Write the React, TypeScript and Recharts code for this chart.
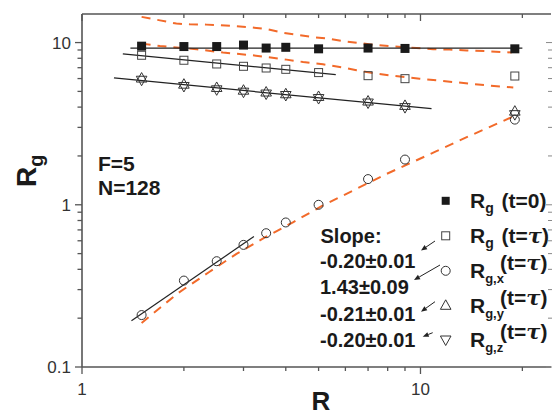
import React from 'react';
import { ScatterChart, Scatter, XAxis, YAxis } from 'recharts';

// measured radii (x) and radius of gyration values (y)
const R = [1.5, 2, 2.5, 3, 3.5, 4, 5, 7, 9, 19];
const rgT0 = [9.5, 9.45, 9.45, 9.65, 9.25, 9.35, 9.15, 9.25, 9.2, 9.15];
const rgTau = [8.35, 7.78, 7.38, 7.14, 6.97, 6.84, 6.53, 6.25, 5.99, 6.22];
const rgX = [0.209, 0.341, 0.449, 0.566, 0.668, 0.778, 1.0, 1.44, 1.9, 3.35];
const rgY = [6.0, 5.5, 5.25, 5.05, 4.92, 4.8, 4.62, 4.33, 4.07, 3.75];
const rgZ = [5.9, 5.4, 5.15, 4.98, 4.85, 4.75, 4.55, 4.27, 4.0, 3.62];

// power-law fits (end points)
const fitT0R = [1.39, 20];
const fitT0V = [9.25, 9.25];
const fitTauR = [1.32, 5.62];
const fitTauV = [8.51, 6.35];
const fitYZR = [1.243, 10.78];
const fitYZV = [6.05, 3.91];
const fitXR = [1.4, 3.22];
const fitXV = [0.193, 0.637];

// dashed (theory) curves
const curveTopR = [1.5, 1.7, 1.9, 2.08, 2.33, 2.55, 2.86, 3.17, 3.51, 3.93, 4.4, 4.82, 5.28, 5.91, 7.24, 8.11, 9.73, 10.9, 12.2, 13.7, 15.7, 18.6];
const curveTopV = [14.4, 13.7, 13.1, 12.95, 12.9, 12.8, 12.6, 12.4, 12.1, 11.5, 11.1, 10.8, 10.6, 10.2, 9.7, 9.5, 9.25, 9.1, 9.05, 8.95, 8.85, 8.68];
const curveMidR = [1.5, 1.7, 2.18, 2.61, 3.2, 4.02, 4.5, 5.15, 5.91, 6.47, 7.41, 8.11, 9.95, 12.5, 15.7, 18.8];
const curveMidV = [9.85, 9.53, 9.09, 8.68, 8.35, 7.85, 7.59, 7.35, 7.01, 6.75, 6.44, 6.28, 5.99, 5.71, 5.45, 5.28];
const curveXR = [1.5, 1.705, 1.92, 2.37, 2.86, 3.48, 4.2, 5.15, 7.94, 11.15, 13.7, 18.6];
const curveXV = [0.187, 0.233, 0.285, 0.384, 0.498, 0.631, 0.78, 0.99, 1.55, 2.14, 2.61, 3.47];

const xTicks = [1, 2, 3, 4, 5, 6, 7, 8, 9, 10, 20];
const yTicks = [0.1, 0.2, 0.3, 0.4, 0.5, 0.6, 0.7, 0.8, 0.9, 1, 2, 3, 4, 5, 6, 7, 8, 9, 10];
const xLabels = [1, 10];
const yLabels = [0.1, 1, 10];

const slopes = ['-0.20\u00b10.01', '1.43\u00b10.09', '-0.21\u00b10.01', '-0.20\u00b10.01'];

const W = 552;
const H = 415;
const PL = 82;
const PR = 551;
const PT = 14;
const PB = 367;
const ORANGE = '#f26a2a';
const AXIS = '#555';
const FONT = '"Liberation Sans", Arial, sans-serif';

const pts = (xs: number[], ys: number[]) => xs.map((x, i) => ({ x, y: ys[i] }));

const Empty = () => <g />;
const FilledSquare = (p: any) => <rect x={p.cx - 4.5} y={p.cy - 4.5} width={9} height={9} fill="#1a1a1a" />;
const OpenSquare = (p: any) => <rect x={p.cx - 4} y={p.cy - 4} width={8} height={8} fill="none" stroke="#444" strokeWidth={1} />;
const OpenCircle = (p: any) => <circle cx={p.cx} cy={p.cy} r={4.5} fill="none" stroke="#333" strokeWidth={1} />;
const UpTri = (p: any) => (
  <path d={`M${p.cx},${p.cy - 6}L${p.cx + 5.3},${p.cy + 3.5}L${p.cx - 5.3},${p.cy + 3.5}Z`} fill="none" stroke="#333" strokeWidth={1} />
);
const DownTri = (p: any) => (
  <path d={`M${p.cx},${p.cy + 6}L${p.cx + 5.3},${p.cy - 3.5}L${p.cx - 5.3},${p.cy - 3.5}Z`} fill="none" stroke="#333" strokeWidth={1} />
);

const BottomTick = ({ x, payload }: any) => {
  const major = xLabels.includes(payload.value);
  return (
    <g>
      <line x1={x} x2={x} y1={PB} y2={PB + (major ? 7 : 4)} stroke={AXIS} strokeWidth={1.3} />
      {major && (
        <text x={x} y={395} textAnchor="middle" fontSize={17} fill="#333" fontFamily={FONT}>
          {payload.value}
        </text>
      )}
    </g>
  );
};
const TopTick = ({ x, payload }: any) => {
  const major = xLabels.includes(payload.value);
  return <line x1={x} x2={x} y1={PT} y2={PT + (major ? 7 : 4)} stroke={AXIS} strokeWidth={1.3} />;
};
const LeftTick = ({ y, payload }: any) => {
  const major = yLabels.includes(payload.value);
  return (
    <g>
      <line x1={PL - (major ? 7 : 4.5)} x2={PL} y1={y} y2={y} stroke={AXIS} strokeWidth={1.3} />
      {major && (
        <text x={71} y={y + 6} textAnchor="end" fontSize={17} fill="#333" fontFamily={FONT}>
          {payload.value}
        </text>
      )}
    </g>
  );
};
const RightTick = ({ y, payload }: any) => {
  const major = yLabels.includes(payload.value);
  return <line x1={PR - (major ? 5 : 3)} x2={PR + 1} y1={y} y2={y} stroke="#888" strokeWidth={1} />;
};

const legendRows = [
  { sub: 'g', tail: '(t=0)', raised: false },
  { sub: 'g', tail: '(t=\u03c4)', raised: false },
  { sub: 'g,x', tail: '(t=\u03c4)', raised: true },
  { sub: 'g,y', tail: '(t=\u03c4)', raised: true },
  { sub: 'g,z', tail: '(t=\u03c4)', raised: true },
];
const legendY = [208.3, 243.3, 278.3, 313.3, 347];

const LegendMarker = ({ i, cx, cy }: { i: number; cx: number; cy: number }) => {
  if (i === 0) return <rect x={cx - 4} y={cy - 4} width={8} height={8} fill="#1a1a1a" />;
  if (i === 1) return <rect x={cx - 4} y={cy - 4} width={8} height={8} fill="none" stroke="#444" />;
  if (i === 2) return <circle cx={cx} cy={cy} r={4.5} fill="none" stroke="#333" />;
  if (i === 3) return <UpTri cx={cx} cy={cy} />;
  return <DownTri cx={cx} cy={cy} />;
};

const arrows = [
  [435, 241, 421, 250.5],
  [440, 265, 414, 280],
  [435, 301.7, 421, 311.7],
  [432.7, 332.7, 422.7, 336.7],
];

const Arrow = ({ a }: { a: number[] }) => {
  const [x1, y1, x2, y2] = a;
  const ang = Math.atan2(y2 - y1, x2 - x1);
  const L = 6;
  const w = 2.5;
  const bx = x2 - L * Math.cos(ang);
  const by = y2 - L * Math.sin(ang);
  const px = -Math.sin(ang) * w;
  const py = Math.cos(ang) * w;
  return (
    <g>
      <line x1={x1} y1={y1} x2={bx} y2={by} stroke="#222" strokeWidth={1} />
      <path d={`M${x2},${y2}L${bx + px},${by + py}L${bx - px},${by - py}Z`} fill="#222" />
    </g>
  );
};

const axisCommon = {
  type: 'number' as const,
  scale: 'log' as const,
  allowDataOverflow: true,
  interval: 0 as const,
  tickSize: 0,
  tickMargin: 0,
  tickLine: false,
};

export default function App() {
  return (
    <div style={{ position: 'absolute', left: 0, top: 0, width: W, height: H, background: '#fff' }}>
      <ScatterChart width={W} height={H} margin={{ top: PT - 2, right: W - PR - 2, bottom: H - PB - 30, left: PL - 30 }}>
        <XAxis xAxisId={0} dataKey="x" domain={[1, 24.3]} ticks={xTicks} height={30} tick={BottomTick} axisLine={{ stroke: AXIS, strokeWidth: 1.6 }} {...axisCommon} />
        <XAxis xAxisId="top" orientation="top" dataKey="x" domain={[1, 24.3]} ticks={xTicks} height={2} tick={TopTick} axisLine={{ stroke: AXIS, strokeWidth: 1.6 }} {...axisCommon} />
        <YAxis yAxisId={0} dataKey="y" domain={[0.1, 15]} ticks={yTicks} width={30} tick={LeftTick} axisLine={{ stroke: AXIS, strokeWidth: 1.6 }} {...axisCommon} />
        <YAxis yAxisId="right" orientation="right" dataKey="y" domain={[0.1, 15]} ticks={yTicks} width={2} tick={RightTick} axisLine={false} {...axisCommon} />

        <Scatter data={pts(curveTopR, curveTopV)} line={{ stroke: ORANGE, strokeWidth: 2, strokeDasharray: '9 7' }} shape={Empty} isAnimationActive={false} />
        <Scatter data={pts(curveMidR, curveMidV)} line={{ stroke: ORANGE, strokeWidth: 2, strokeDasharray: '9 7' }} shape={Empty} isAnimationActive={false} />
        <Scatter data={pts(curveXR, curveXV)} line={{ stroke: ORANGE, strokeWidth: 2, strokeDasharray: '9 7' }} shape={Empty} isAnimationActive={false} />

        <Scatter data={pts(fitT0R, fitT0V)} line={{ stroke: '#222', strokeWidth: 1.2 }} shape={Empty} isAnimationActive={false} />
        <Scatter data={pts(fitTauR, fitTauV)} line={{ stroke: '#222', strokeWidth: 1.2 }} shape={Empty} isAnimationActive={false} />
        <Scatter data={pts(fitYZR, fitYZV)} line={{ stroke: '#222', strokeWidth: 1.2 }} shape={Empty} isAnimationActive={false} />
        <Scatter data={pts(fitXR, fitXV)} line={{ stroke: '#222', strokeWidth: 1.2 }} shape={Empty} isAnimationActive={false} />

        <Scatter data={pts(R, rgT0)} shape={FilledSquare} isAnimationActive={false} />
        <Scatter data={pts(R, rgTau)} shape={OpenSquare} isAnimationActive={false} />
        <Scatter data={pts(R, rgX)} shape={OpenCircle} isAnimationActive={false} />
        <Scatter data={pts(R, rgY)} shape={UpTri} isAnimationActive={false} />
        <Scatter data={pts(R, rgZ)} shape={DownTri} isAnimationActive={false} />
      </ScatterChart>

      <svg width={W} height={H} style={{ position: 'absolute', left: 0, top: 0, pointerEvents: 'none' }}>
        <g fontFamily={FONT} fontWeight="bold" fill="#1a1a1a">
          {/* axis titles */}
          <text x={321} y={410} textAnchor="middle" fontSize={26}>R</text>
          <text x={36} y={187} fontSize={28} transform="rotate(-90 36 187)">
            R<tspan fontSize={20} dy={7}>g</tspan>
          </text>

          <text x={98} y={170.5} fontSize={21}>F=5</text>
          <text x={98} y={195} fontSize={21}>N=128</text>

          <text x={320.5} y={242.7} fontSize={20}>Slope:</text>
          {slopes.map((s, i) => (
            <text key={i} x={320} y={268.3 + i * 26.1} fontSize={20}>{s}</text>
          ))}

          {legendRows.map((row, i) => (
            <g key={i}>
              <LegendMarker i={i} cx={445.7} cy={legendY[i] - 7.5} />
              <text x={470} y={legendY[i]} fontSize={21}>
                R<tspan fontSize={row.raised ? 13 : 14} dy={5}>{row.sub}</tspan>
              </text>
              <text x={row.raised ? 500 : 501.5} y={legendY[i] - (row.raised ? 8 : 0)} fontSize={21}>
                {row.tail.split('\u03c4')[0]}
                {row.tail.includes('\u03c4') && <tspan fontStyle="italic" fontFamily="'DejaVu Serif', serif">{'\u03c4'}</tspan>}
                {row.tail.includes('\u03c4') ? ')' : ''}
              </text>
            </g>
          ))}
        </g>
        {arrows.map((a, i) => (
          <Arrow key={i} a={a} />
        ))}
      </svg>
    </div>
  );
}
